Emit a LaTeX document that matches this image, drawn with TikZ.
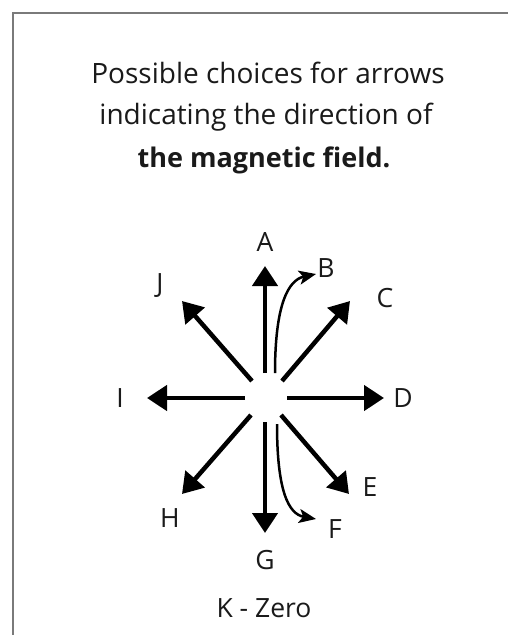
\documentclass[tikz,border=0pt]{standalone}
\usepackage{fontspec}
\setmainfont{Open Sans}
\usetikzlibrary{arrows.meta}
\definecolor{txt}{HTML}{1A1A1A}
\definecolor{frame}{HTML}{7A7A7A}
\begin{document}
\begin{tikzpicture}[x=1pt,y=-1pt,
  title/.style={anchor=base,text=txt,font=\fontsize{28}{31}\selectfont,inner sep=0pt},
  lab/.style={text=txt,font=\fontsize{26.5}{30}\selectfont,inner sep=0pt},
  thick arrow/.style={line width=4.5pt,-{Triangle[length=20pt,width=25pt]}},
  thin arrow/.style={line width=2.5pt,-{Stealth[length=17pt,width=14pt,inset=4pt]}}]
\useasboundingbox (0,0) rectangle (507,635);
\fill[white] (0,0) rectangle (507,635);
% frame
\draw[frame,line width=2.5pt] (13,636) -- (13,13) -- (508,13);
% title
\node[title] (t1) at (268,83) {Possible choices for arrows};
\node[title] (t2) at (266,124) {indicating the direction of};
\node[title,font=\fontsize{27}{31}\selectfont\bfseries] (t3) at (264,167) {the magnetic field.};
% arrow start and tip points
\coordinate (sA) at (265,373); \coordinate (tA) at (265,266);
\coordinate (sB) at (275,373); \coordinate (tB) at (316,274);
\coordinate (sC) at (282,381); \coordinate (tC) at (350,301);
\coordinate (sD) at (287,398); \coordinate (tD) at (384,398);
\coordinate (sE) at (281,415); \coordinate (tE) at (349,494);
\coordinate (sF) at (277,424); \coordinate (tF) at (316,519);
\coordinate (sG) at (265,422); \coordinate (tG) at (265,533);
\coordinate (sH) at (251,415); \coordinate (tH) at (182,494);
\coordinate (sI) at (245,398); \coordinate (tI) at (147,398);
\coordinate (sJ) at (252,381); \coordinate (tJ) at (182,301);
% arrows
\draw[thick arrow] (sA) -- (tA);
\draw[thin arrow] (sB) .. controls (275,305) and (288,280) .. (tB);
\draw[thick arrow] (sC) -- (tC);
\draw[thick arrow] (sD) -- (tD);
\draw[thick arrow] (sE) -- (tE);
\draw[thin arrow] (sF) .. controls (277,490) and (288,514) .. (tF);
\draw[thick arrow] (sG) -- (tG);
\draw[thick arrow] (sH) -- (tH);
\draw[thick arrow] (sI) -- (tI);
\draw[thick arrow] (sJ) -- (tJ);
% labels
\node[lab] (lA) at (265,242) {A};
\node[lab] (lB) at (326,268) {B};
\node[lab] (lC) at (385,298) {C};
\node[lab] (lD) at (403,398) {D};
\node[lab] (lE) at (370,487) {E};
\node[lab] (lF) at (335,529) {F};
\node[lab] (lG) at (265,560) {G};
\node[lab] (lH) at (170,518) {H};
\node[lab] (lI) at (120,398) {I};
\node[lab] (lJ) at (160,286) {J};
\node[lab] (lK) at (264,608) {K - Zero};
\end{tikzpicture}
\end{document}
